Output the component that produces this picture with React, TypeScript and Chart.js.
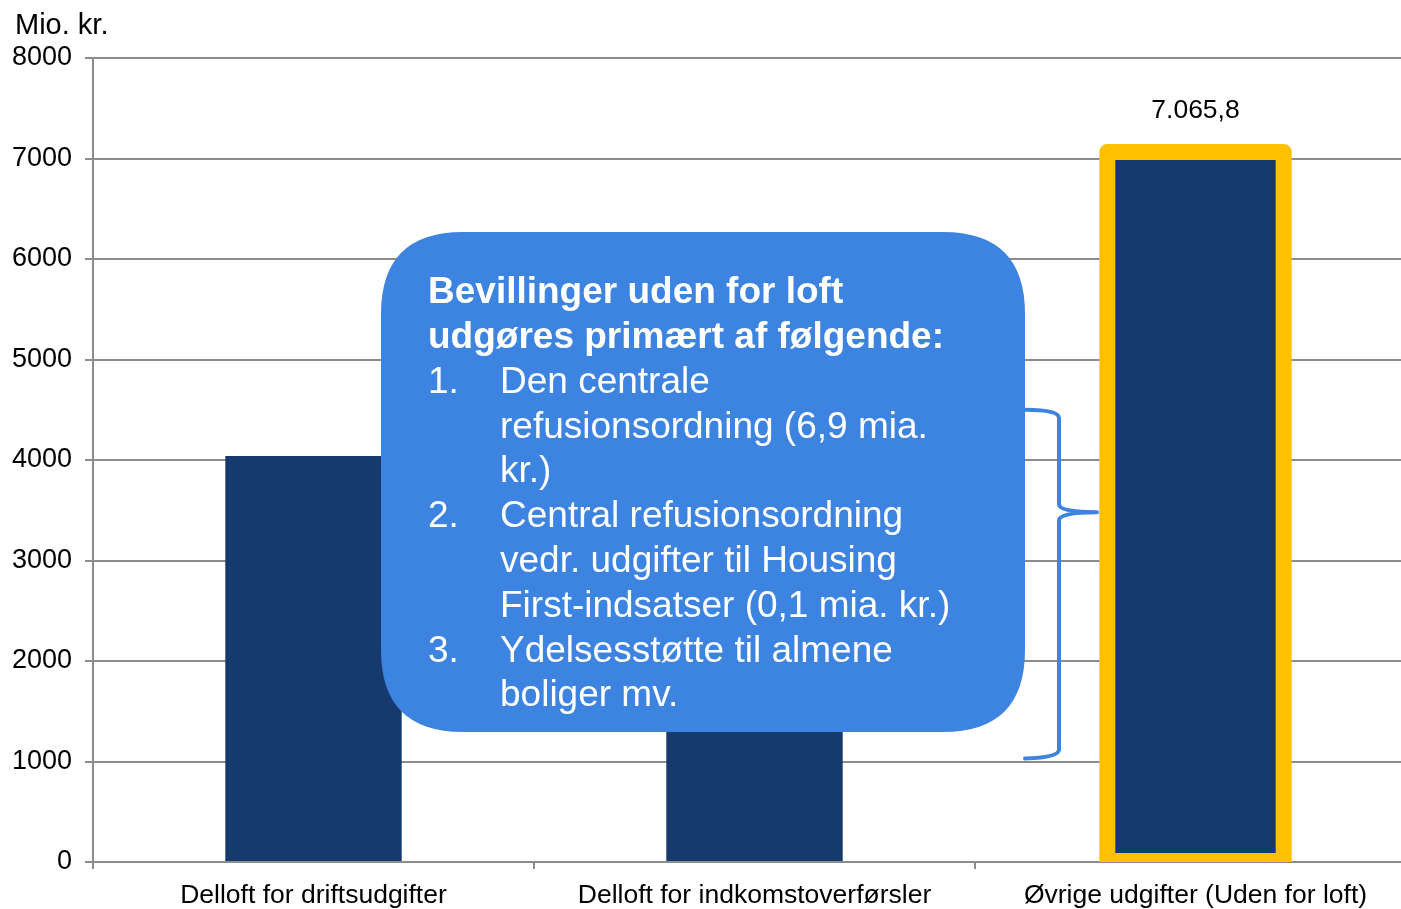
import React, { useEffect, useRef } from "react";
import { Chart, registerables } from "chart.js";

Chart.register(...registerables);

const categories = [
  "Delloft for driftsudgifter",
  "Delloft for indkomstoverførsler",
  "Øvrige udgifter (Uden for loft)",
];
const values = [4040, 4500, 7065.8];
const valueLabels = ["", "", "7.065,8"];
const highlightIndex = 2;
const yTicks = [0, 1000, 2000, 3000, 4000, 5000, 6000, 7000, 8000];
const unitLabel = "Mio. kr.";
const calloutLines: { num: string; text: string; bold: boolean }[] = [
  { num: "", text: "Bevillinger uden for loft", bold: true },
  { num: "", text: "udgøres primært af følgende:", bold: true },
  { num: "1.", text: "Den centrale", bold: false },
  { num: "", text: "refusionsordning (6,9 mia.", bold: false },
  { num: "", text: "kr.)", bold: false },
  { num: "2.", text: "Central refusionsordning", bold: false },
  { num: "", text: "vedr. udgifter til Housing", bold: false },
  { num: "", text: "First-indsatser (0,1 mia. kr.)", bold: false },
  { num: "3.", text: "Ydelsesstøtte til almene", bold: false },
  { num: "", text: "boliger mv.", bold: false },
];

const FONT = "'Liberation Sans', Arial, sans-serif";
const NAVY = "#163a6e";
const ORANGE = "#ffc000";
const CALLOUT = "#3d83e0";
const GRID = "#8c8c8c";

const overlayPlugin = {
  id: "overlay",
  afterDatasetsDraw(chart: any) {
    const ctx = chart.ctx;
    const meta = chart.getDatasetMeta(0);
    const area = chart.chartArea;
    const bar = meta.data[highlightIndex];
    if (bar) {
      const p = bar.getProps(["x", "y", "base", "width"], true);
      ctx.save();
      ctx.beginPath();
      ctx.rect(0, 0, chart.width, area.bottom);
      ctx.clip();
      ctx.strokeStyle = ORANGE;
      ctx.lineWidth = 16;
      ctx.lineJoin = "round";
      ctx.strokeRect(p.x - p.width / 2, p.y, p.width, p.base - p.y);
      ctx.restore();
    }
    ctx.save();
    ctx.font = `26.5px ${FONT}`;
    ctx.fillStyle = "#000";
    ctx.textAlign = "center";
    ctx.textBaseline = "middle";
    meta.data.forEach((el: any, i: number) => {
      if (!valueLabels[i]) return;
      const p = el.getProps(["x", "y"], true);
      ctx.fillText(valueLabels[i], p.x, p.y - 41);
    });
    ctx.restore();
  },
  afterDraw(chart: any) {
    const ctx = chart.ctx;
    const ys = chart.scales.y;
    ctx.save();
    ctx.font = `29px ${FONT}`;
    ctx.fillStyle = "#000";
    ctx.textAlign = "left";
    ctx.textBaseline = "middle";
    ctx.fillText(unitLabel, 15, 26);

    const bx = 381, by = 232, bw = 644, bh = 500, r = 82;
    ctx.fillStyle = CALLOUT;
    ctx.beginPath();
    ctx.moveTo(bx + r, by);
    ctx.lineTo(bx + bw - r, by);
    ctx.quadraticCurveTo(bx + bw, by, bx + bw, by + r);
    ctx.lineTo(bx + bw, by + bh - r);
    ctx.quadraticCurveTo(bx + bw, by + bh, bx + bw - r, by + bh);
    ctx.lineTo(bx + r, by + bh);
    ctx.quadraticCurveTo(bx, by + bh, bx, by + bh - r);
    ctx.lineTo(bx, by + r);
    ctx.quadraticCurveTo(bx, by, bx + r, by);
    ctx.closePath();
    ctx.fill();

    ctx.fillStyle = "#fff";
    ctx.textBaseline = "middle";
    calloutLines.forEach((ln, i) => {
      const y = 293 + i * 44.8;
      ctx.font = `${ln.bold ? "bold " : ""}37px ${FONT}`;
      if (ln.bold) {
        ctx.fillText(ln.text, 428, y);
      } else {
        if (ln.num) ctx.fillText(ln.num, 428, y);
        ctx.fillText(ln.text, 500, y);
      }
    });

    const top = ys.getPixelForValue(4500);
    const bot = ys.getPixelForValue(1040);
    const tip = ys.getPixelForValue(3480);
    const xl = 1025, xm = 1059, xt = 1097;
    ctx.strokeStyle = CALLOUT;
    ctx.lineWidth = 4;
    ctx.lineCap = "round";
    ctx.beginPath();
    ctx.moveTo(xl, top);
    ctx.quadraticCurveTo(xm, top, xm, top + 8);
    ctx.lineTo(xm, tip - 8);
    ctx.quadraticCurveTo(xm, tip, xt, tip);
    ctx.moveTo(xt, tip);
    ctx.quadraticCurveTo(xm, tip, xm, tip + 8);
    ctx.lineTo(xm, bot - 8);
    ctx.quadraticCurveTo(xm, bot, xl, bot + 1);
    ctx.stroke();
    ctx.restore();
  },
};

export default function App() {
  const ref = useRef<HTMLCanvasElement | null>(null);
  useEffect(() => {
    if (!ref.current) return;
    const chart = new Chart(ref.current, {
      type: "bar",
      data: {
        labels: categories,
        datasets: [
          {
            data: values,
            backgroundColor: NAVY,
            categoryPercentage: 1,
            barPercentage: 0.4,
          },
        ],
      },
      options: {
        responsive: false,
        animation: false,
        devicePixelRatio: 1,
        layout: { padding: { top: 58, right: 4, left: 0, bottom: 0 } },
        plugins: { legend: { display: false }, tooltip: { enabled: false } },
        scales: {
          y: {
            min: 0,
            max: 8000,
            afterBuildTicks: (s: any) => {
              s.ticks = yTicks.map((v) => ({ value: v }));
            },
            afterFit: (s: any) => {
              s.width = 93;
            },
            ticks: {
              font: { family: FONT, size: 27 },
              color: "#000",
              padding: 13,
              callback: (v: any) => String(v),
            },
            grid: { color: GRID, lineWidth: 2, tickLength: 8 },
            border: { color: GRID, width: 2 },
          },
          x: {
            afterFit: (s: any) => {
              s.height = 47;
            },
            ticks: {
              font: { family: FONT, size: 26.5 },
              color: "#000",
              padding: 11,
              maxRotation: 0,
              autoSkip: false,
            },
            grid: {
              offset: true,
              drawOnChartArea: false,
              color: GRID,
              lineWidth: 2,
              tickLength: 7,
            },
            border: { color: GRID, width: 2 },
          },
        },
      },
      plugins: [overlayPlugin],
    });
    return () => chart.destroy();
  }, []);
  return (
    <div
      style={{
        position: "fixed",
        left: 0,
        top: 0,
        width: 1401,
        height: 909,
        overflow: "hidden",
        background: "#fff",
      }}
    >
      <canvas ref={ref} width={1420} height={909} />
    </div>
  );
}
